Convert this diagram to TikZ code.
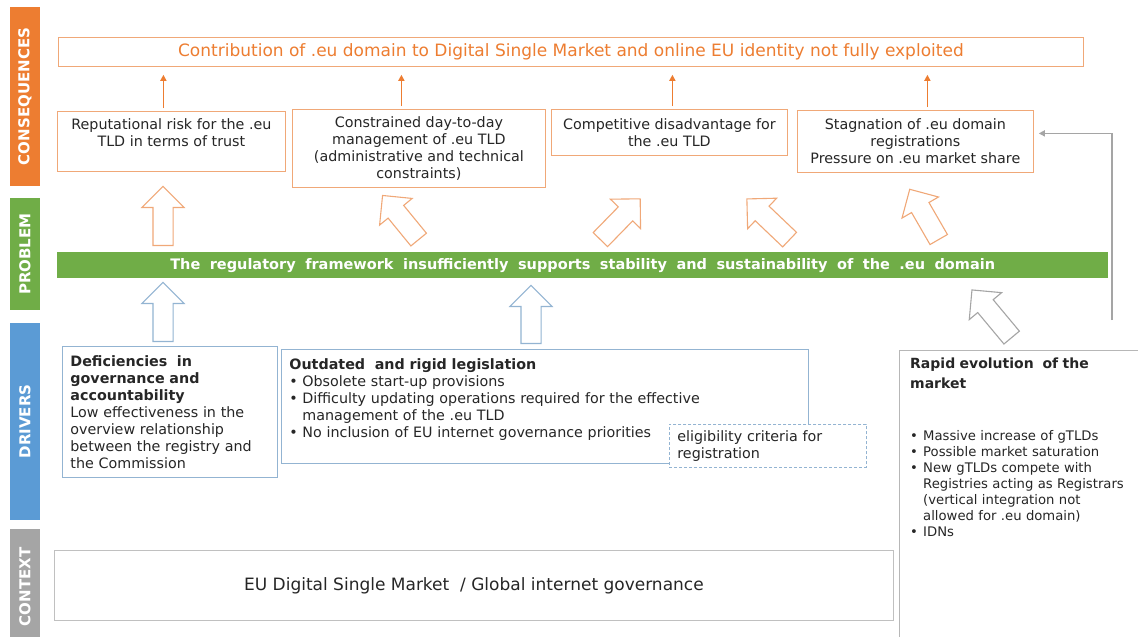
\documentclass[tikz,border=0pt]{standalone}
\usepackage{fontspec}
\setmainfont{DejaVu Sans}
\usetikzlibrary{positioning,shapes.arrows,arrows.meta}

\definecolor{eorange}{HTML}{ED7D31}
\definecolor{lorange}{HTML}{F0A878}
\definecolor{egreen}{HTML}{70AD47}
\definecolor{eblue}{HTML}{5B9BD5}
\definecolor{lblue}{HTML}{93B4D2}
\definecolor{egray}{HTML}{A5A5A5}
\definecolor{etext}{HTML}{262626}

\newcommand{\bul}[1]{\par\hangindent=13pt\hangafter=1\noindent\makebox[13pt][l]{\textbullet}#1}
\newcommand{\wideskip}{\spaceskip=9.5pt\relax}

\begin{document}
\begin{tikzpicture}
[
  x=1pt, y=-1pt,
  bar/.style={rotate=90, minimum height=30pt, inner sep=0pt, text=white, font=\bfseries\fontsize{15}{15}\selectfont},
  cbox/.style={draw=lorange, line width=0.8pt, fill=white, anchor=north west, inner sep=0pt, align=center, text=etext, font=\fontsize{14.3}{17}\selectfont},
  dbox/.style={draw=lblue, line width=0.8pt, fill=white, anchor=north west, inner xsep=8pt, inner ysep=0pt, align=left, text=etext, font=\fontsize{14.3}{17}\selectfont},
  uparrow/.style={single arrow, draw, fill=white, line width=1.1pt, inner xsep=0pt, inner ysep=9.5pt, single arrow head extend=11pt, single arrow tip angle=90, anchor=tail},
  conarrow/.style={draw=eorange, line width=1.7pt, -{Triangle[length=6pt,width=6pt]}, shorten >=8pt, shorten <=3pt},
  fbline/.style={draw=egray, line width=1.4pt, -{Triangle[length=6pt,width=6pt]}, shorten >=5pt}
]
 \path[use as bounding box, clip] (0,0) rectangle (1138,637);
 \fill[white] (0,0) rectangle (1138,637);

 \node[bar, fill=eorange, minimum width=179pt] (lcons) at (25,96.5) {CONSEQUENCES};
 \node[bar, fill=egreen, minimum width=112pt] (lprob) at (25,254) {PROBLEM};
 \node[bar, fill=eblue, minimum width=197pt] (ldriv) at (25,421.5) {DRIVERS};
 \node[bar, fill=egray, minimum width=116pt] (lcont) at (25,587) {CONTEXT};

 \node[cbox, minimum width=1025pt, minimum height=29pt, text=eorange, font=\fontsize{17}{20}\selectfont] (top) at (58,37)
   {Contribution of .eu domain to Digital Single Market and online EU identity not fully exploited};

 \node[cbox, minimum width=228pt, minimum height=60pt] (c1) at (57,111) {Reputational risk for the .eu\\TLD in terms of trust\\~};
 \node[cbox, minimum width=253pt, minimum height=78pt] (c2) at (292,109) {Constrained day-to-day\\management of .eu TLD\\(administrative and technical\\constraints)};
 \node[cbox, minimum width=236pt, minimum height=46pt] (c3) at (551,109) {Competitive disadvantage for\\the .eu TLD};
 \node[cbox, minimum width=236pt, minimum height=62pt] (c4) at (797,110) {Stagnation of .eu domain\\registrations\\Pressure on .eu market share};

 \path
   ([xshift=-8pt]c1.north) edge[conarrow] ([xshift=-8pt]c1.north |- top.south)
   ([xshift=-17.5pt]c2.north) edge[conarrow] ([xshift=-17.5pt]c2.north |- top.south)
   ([xshift=3pt]c3.north) edge[conarrow] ([xshift=3pt]c3.north |- top.south)
   ([xshift=12pt]c4.north) edge[conarrow] ([xshift=12pt]c4.north |- top.south);

 \node[anchor=north west, fill=egreen, minimum width=1051pt, minimum height=26pt, inner sep=0pt, text=white, font=\bfseries\fontsize{14.5}{16}\selectfont] (prob) at (57,252)
   {\wideskip The regulatory framework insufficiently supports stability and sustainability of the .eu domain};

 \node[uparrow, draw=lorange, minimum height=59pt, rotate=90] (a1) at (163,246) {};
 \node[uparrow, draw=lorange, minimum height=57pt, rotate=129.3] (a2) at (419,240) {};
 \node[uparrow, draw=lorange, minimum height=57pt, rotate=45.7] (a3) at (600,240) {};
 \node[uparrow, draw=lorange, minimum height=59pt, rotate=136.4] (a4) at (790,240) {};
 \node[uparrow, draw=lorange, minimum height=58pt, rotate=120] (a5) at (939,240) {};

 \node[uparrow, draw=lblue, minimum height=59pt, rotate=90] (b1) at (163,342) {};
 \node[uparrow, draw=lblue, minimum height=58pt, rotate=90] (b2) at (531,344) {};
 \node[uparrow, draw=egray, minimum height=62pt, rotate=129.8] (g1) at (1012,338) {};

 \node[dbox, minimum width=215pt, minimum height=131pt, text width=199pt] (d1) at (62,346)
   {\textbf{Deficiencies\ \ in}\\\textbf{governance and}\\\textbf{accountability}\\Low effectiveness in the\\overview relationship\\between the registry and\\the Commission};
 \node[dbox, minimum width=527pt, minimum height=114pt, text width=511pt] (d2) at (281,349)
   {\textbf{Outdated\ \ and rigid legislation}
    \bul{Obsolete start-up provisions}
    \bul{Difficulty updating operations required for the effective\newline management of the .eu TLD}
    \bul{No inclusion of EU internet governance priorities}\par\mbox{}};
 \node[dbox, dash pattern=on 3pt off 2pt, minimum width=197pt, minimum height=43pt, text width=181pt] (elig) at (669,424)
   {eligibility criteria for\\registration};

 \node[dbox, draw=egray!80, minimum width=260pt, minimum height=300pt] (d3) at (899,350) {};
 \node[anchor=north west, inner sep=0pt, text width=226pt, align=left, text=etext, font=\fontsize{13.2}{16}\selectfont] (d3txt) at ([xshift=11pt,yshift=-8pt]d3.north west)
   {{\bfseries\fontsize{14}{20}\selectfont Rapid evolution\ \ of the\\market\par}
    \vspace{36pt}
    \bul{Massive increase of gTLDs}
    \bul{Possible market saturation}
    \bul{New gTLDs compete with\newline Registries acting as Registrars\newline (vertical integration not\newline allowed for .eu domain)}
    \bul{IDNs}};

 \coordinate (fb) at (1112,320);
 \draw[fbline] (fb) |- ([yshift=8pt]c4.east);

 \node[dbox, draw=egray!70, minimum width=839pt, minimum height=70pt, align=center, font=\fontsize{17}{20}\selectfont] (ctx) at (54,550)
   {EU Digital Single Market\ \ / Global internet governance};
\end{tikzpicture}
\end{document}
